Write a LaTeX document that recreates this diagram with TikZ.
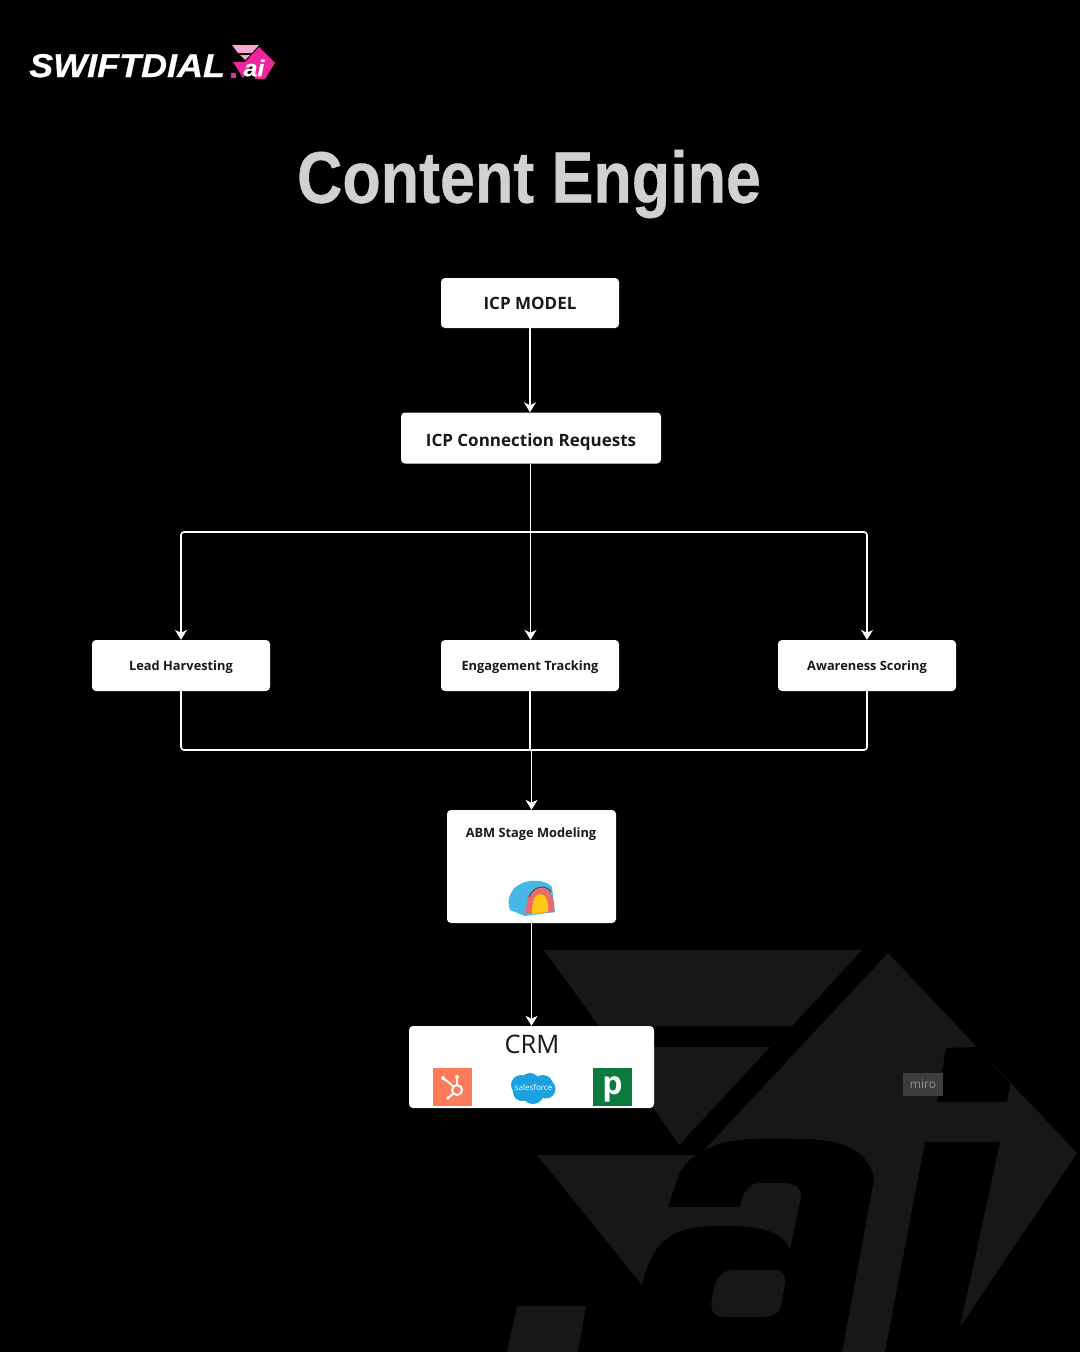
\documentclass[tikz,border=0pt]{standalone}
\usepackage{fontspec}
\setmainfont{Open Sans}
\newfontfamily\titlefont[FakeStretch=0.86,FakeBold=0.5]{Liberation Sans}
\newfontfamily\logofont[FakeStretch=1.09,FakeBold=0.6]{Liberation Sans}
\usetikzlibrary{arrows.meta}
\definecolor{wmgray}{HTML}{171717}
\definecolor{logopink}{HTML}{F0259B}
\definecolor{logopale}{HTML}{F7A8CE}
\definecolor{sfblue}{HTML}{1BA0E0}
\definecolor{archblue}{HTML}{45B8E8}
\definecolor{archred}{HTML}{EE6A6A}
\definecolor{archyellow}{HTML}{FFC814}
\definecolor{hubcolor}{HTML}{FF7A59}
\definecolor{pipegreen}{HTML}{0A7A3F}
\tikzset{
  boxnode/.style={fill=white,rounded corners=4pt,inner sep=0pt,align=center,text=black!90},
  wmark/.style={fill=wmgray,draw=none},
  cutout/.style={fill=black,draw=none},
  link/.style={draw=white,line width=1.6pt,rounded corners=3pt},
  linkarrow/.style={link,-{Stealth[length=10pt,width=12pt,inset=3pt]}},
  bigbold/.style={font=\bfseries\fontsize{17}{20}\selectfont},
  smallbold/.style={font=\bfseries\fontsize{12.8}{16}\selectfont,text height=9.1pt,text depth=0pt},
}
\begin{document}
\begin{tikzpicture}[x=1pt,y=-1pt]
\useasboundingbox (0,0) rectangle (1080,1352);
\fill[black] (0,0) rectangle (1080,1352);
% watermark
\path[wmark] (544,950) -- (862,950) -- (792,1026) -- (599,1026) -- cycle;
\path[wmark] (611,1047) -- (770,1047) -- (679,1145) -- cycle;
\path[wmark] (537,1155) -- (700,1155) -- (707,1147) -- (888,953) -- (977,1047) -- (1077,1153) -- (960,1327) -- (885,1352) -- (843,1352) -- (642,1352) -- (642,1285) -- cycle;
\path[cutout] (668,1207) -- (678,1177) .. controls (684,1162) and (696,1152) .. (722,1143)
  .. controls (745,1138) and (775,1138) .. (796,1139)
  .. controls (830,1139) and (868,1143) .. (874,1180)
  -- (842,1352) -- (560,1352) -- (642,1285)
  .. controls (646,1268) and (655,1245) .. (668,1238)
  .. controls (680,1228) and (700,1226) .. (720,1226)
  .. controls (745,1226) and (782,1226) .. (790,1250)
  -- (801,1197) .. controls (802,1188) and (796,1184) .. (785,1183)
  -- (759,1183) .. controls (748,1183) and (742,1194) .. (740,1207) -- cycle;
\path[wmark] (732,1270) -- (775,1270) .. controls (784,1270) and (785,1276) .. (785,1282)
  -- (782,1302) .. controls (780,1312) and (775,1317) .. (764,1317)
  -- (724,1317) .. controls (712,1317) and (710,1308) .. (712,1298)
  .. controls (714,1282) and (720,1270) .. (732,1270) -- cycle;
\path[cutout] (925,1142) -- (1000,1142) -- (960,1327) -- (950,1352) -- (885,1352) -- cycle;
\path[cutout] (946,1048) -- (937,1102) -- (1007,1102) -- (1010,1083) -- (977,1047) -- cycle;
\path[wmark] (517,1306) -- (586,1306) -- (578,1352) -- (507,1352) -- cycle;
\fill[white!24!black] (903,1073) rectangle (943,1096);
\node[text=white!58!black,font=\fontsize{12}{14}\selectfont,inner sep=0pt] (miro) at (923,1084) {miro};
% logo
\node[anchor=base west,inner sep=0pt,text=white,font=\logofont\bfseries\itshape\fontsize{33}{36}\selectfont] (logotext) at (29,77) {SWIFTDIAL};
\fill[logopink] (231,73) rectangle (235.5,77.5);
\fill[logopale] (232,45) -- (259,45) -- (252,53) -- (238,53) -- cycle;
\fill[logopale] (240,55) -- (250,55) -- (245,60) -- cycle;
\fill[logopink] (259,47) -- (275,63) -- (265,79) -- (255,79) -- (252,62) -- (245,62) -- cycle;
\fill[logopink] (233,62) -- (253,62) -- (243,78) -- cycle;
\node[inner sep=0pt,text=white,font=\logofont\bfseries\itshape\fontsize{23}{24}\selectfont] (logoai) at (254,68) {ai};
% title
\node[inner sep=0pt,text=white!82!black,font=\titlefont\bfseries\fontsize{73}{80}\selectfont] (title) at (529,184) {Content Engine};
% boxes
\node[boxnode,bigbold,text height=12.2pt,text depth=0pt,minimum width=178pt,minimum height=50pt] (icp) at (530,303) {ICP MODEL};
\node[boxnode,bigbold,text height=16.2pt,text depth=0pt,minimum width=260pt,minimum height=51pt] (conn) at (531,438) {ICP Connection Requests};
\node[boxnode,smallbold,minimum width=178pt,minimum height=51pt] (lead) at (181,665.5) {Lead Harvesting};
\node[boxnode,smallbold,minimum width=178pt,minimum height=51pt] (eng) at (530,665.5) {Engagement Tracking};
\node[boxnode,smallbold,minimum width=178pt,minimum height=51pt] (aware) at (867,665.5) {Awareness Scoring};
\node[boxnode,minimum width=169pt,minimum height=113pt] (abm) at (531.5,866.5) {};
\node[inner sep=0pt,smallbold,text=black!90] (abmlabel) at (531,833) {ABM Stage Modeling};
\node[boxnode,minimum width=245pt,minimum height=82pt] (crm) at (531.5,1067) {};
\node[inner sep=0pt,text=black!90,font=\fontsize{25.5}{28}\selectfont] (crmlabel) at (532,1044) {CRM};
% connectors
\coordinate (splitc) at (530.5,532);
\coordinate (splitl) at (181,532);
\coordinate (splitr) at (867,532);
\coordinate (mergel) at (181,750);
\coordinate (merger) at (867,750);
\coordinate (mergec) at (531.5,750);
\draw[linkarrow] (icp.south) -- (icp.south |- conn.north);
\draw[link] (splitc |- conn.south) -- (splitc);
\draw[linkarrow] (splitc) -- (splitc |- eng.north);
\draw[linkarrow] (splitc) -- (splitl) -- (lead.north);
\draw[linkarrow] (splitc) -- (splitr) -- (aware.north);
\draw[link] (lead.south) -- (mergel) -- (mergec);
\draw[link] (aware.south) -- (merger) -- (mergec);
\draw[link] (eng.south) -- (eng.south |- mergec);
\draw[linkarrow] (mergec) -- (abm.north);
\draw[linkarrow] (abm.south) -- (crm.north);
% arch icon
\fill[archblue] (510,910) .. controls (506,900) and (510,884) .. (530,881)
  .. controls (540,880) and (548,882) .. (552,887) -- (555,912) -- (525,916) -- cycle;
\fill[archred] (526,914) .. controls (526,896) and (532,887) .. (541,887)
  .. controls (550,887) and (555,898) .. (554,912) -- cycle;
\draw[black!70,line width=1pt] (529,897) .. controls (532,890) and (537,887) .. (542,887) .. controls (546,887) and (549,889) .. (551,892);
\fill[archyellow] (532,914) .. controls (532,901) and (535,894) .. (540,894)
  .. controls (546,894) and (549,902) .. (548,912) -- cycle;
% hubspot
\fill[hubcolor] (432.5,1068) rectangle (472,1106);
\draw[white,line width=2pt] (457,1090) circle (5pt);
\draw[white,line width=2pt,line cap=round] (453,1086) -- (443,1078);
\draw[white,line width=2pt] (457,1085) -- (457,1078);
\draw[white,line width=2pt,line cap=round] (453,1094) -- (448,1098);
\fill[white] (443,1078) circle (2pt);
\fill[white] (457,1077) circle (2pt);
\fill[white] (448,1098) circle (1.8pt);
% salesforce
\fill[sfblue] (521,1085) circle (10pt);
\fill[sfblue] (530,1083) circle (10pt);
\fill[sfblue] (543,1085) circle (10pt);
\fill[sfblue] (546,1089) circle (9.5pt);
\fill[sfblue] (533,1093) circle (11pt);
\fill[sfblue] (522,1092) circle (9pt);
\node[inner sep=0pt,text=white,font=\fontsize{8}{9}\selectfont] (sftext) at (533.5,1087) {salesforce};
% pipedrive
\fill[pipegreen] (593,1068) rectangle (632,1106);
\node[anchor=base,inner sep=0pt,text=white,font=\bfseries\fontsize{32}{36}\selectfont] (pipetext) at (612.5,1094) {p};
\end{tikzpicture}
\end{document}
